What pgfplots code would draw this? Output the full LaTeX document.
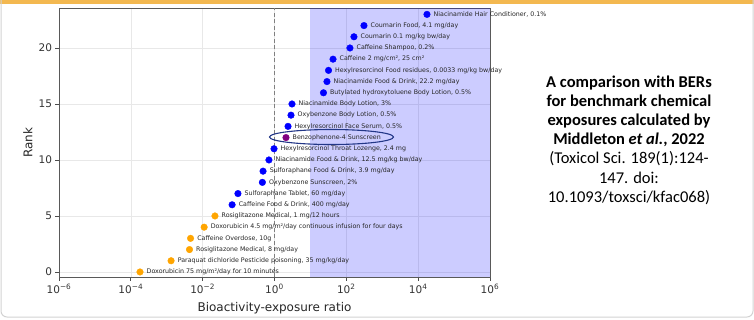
\documentclass[border=0pt]{standalone}
\usepackage{pgfplots}
\pgfplotsset{compat=1.18}
\usepackage{fontspec}
\setmainfont{DejaVu Sans}
\newfontfamily\carlito{Carlito}
\definecolor{orangebar}{RGB}{243,184,80}
\definecolor{ptorange}{RGB}{255,165,0}
\definecolor{ptblue}{RGB}{0,0,255}
\definecolor{ptpurple}{RGB}{128,0,128}
\definecolor{ellcol}{RGB}{35,55,135}
\begin{document}
\begin{tikzpicture}
\path[use as bounding box] (0,0) rectangle (754pt,319pt);
\fill[orangebar] (0,315pt) rectangle (754pt,319pt);
\draw[gray!35, line width=1pt, rounded corners=6pt] (1pt,330pt) -- (1pt,2pt) -- (753pt,2pt) -- (753pt,330pt);
\begin{axis}[
  at={(59pt,42pt)}, anchor=south west,
  scale only axis, width=431pt, height=269pt,
  xmode=log, xmin=1e-6, xmax=1e6, ymin=-0.45, ymax=23.57,
  xtick={1e-6,1e-4,1e-2,1,1e2,1e4,1e6},
  xticklabels={10\textsuperscript{−6},10\textsuperscript{−4},10\textsuperscript{−2},10\textsuperscript{0},10\textsuperscript{2},10\textsuperscript{4},10\textsuperscript{6}},
  xminorticks=false,
  ytick={0,5,10,15,20},
  /pgf/number format/assume math mode=true,
  grid=major, major grid style={gray!18, line width=0.5pt},
  axis line style={black!65, line width=0.9pt},
  tick style={black!70, line width=0.8pt},
  major tick length=3.5pt, tick align=outside, tick pos=left,
  ticklabel style={font=\fontsize{10.5}{12}\selectfont, text=black!80},
  xlabel={Bioactivity-exposure ratio}, ylabel={Rank},
  label style={font=\fontsize{12}{14}\selectfont, text=black!85},
  xlabel style={at={(axis description cs:0.5,-0.115)}, anchor=center},
  ylabel style={at={(axis description cs:-0.0719,0.5)}, anchor=center},
  clip=false,
  every node near coord/.style={anchor=west, inner sep=0pt, xshift=6.5pt, font=\fontsize{6.3}{7}\selectfont, text=black!85},
]
\fill[blue, fill opacity=0.2] (axis cs:10,-0.45) rectangle (axis cs:1e6,23.57);
\addplot[only marks, mark=*, mark size=3.3pt, color=ptorange, point meta=explicit symbolic, nodes near coords] coordinates {
(1.8e-4,0) [Doxorubicin 75 mg/m²/day for 10 minutes]
(0.00132,1) [Paraquat dichloride Pesticide poisoning, 35 mg/kg/day]
(0.0043,2) [Rosiglitazone Medical, 8 mg/day]
(0.0046,3) [Caffeine Overdose, 10g]
(0.011,4) [Doxorubicin 4.5 mg/m²/day continuous infusion for four days]
(0.022,5) [Rosiglitazone Medical, 1 mg/12 hours]
};
\addplot[only marks, mark=*, mark size=3.3pt, color=ptblue, point meta=explicit symbolic, nodes near coords] coordinates {
(0.066,6) [Caffeine Food \& Drink, 400 mg/day]
(0.096,7) [Sulforaphane Tablet, 60 mg/day]
(0.46,8) [Oxybenzone Sunscreen, 2\%]
(0.48,9) [Sulforaphane Food \& Drink, 3.9 mg/day]
(0.70,10) [Niacinamide Food \& Drink, 12.5 mg/kg bw/day]
(0.97,11) [Hexylresorcinol Throat Lozenge, 2.4 mg]
(2.38,13) [Hexylresorcinol Face Serum, 0.5\%]
(2.88,14) [Oxybenzone Body Lotion, 0.5\%]
(3.07,15) [Niacinamide Body Lotion, 3\%]
(23.1,16) [Butylated hydroxytoluene Body Lotion, 0.5\%]
(28.9,17) [Niacinamide Food \& Drink, 22.2 mg/day]
(31.9,18) [Hexylresorcinol Food residues, 0.0033 mg/kg bw/day]
(42.6,19) [Caffeine 2 mg/cm², 25 cm²]
(126,20) [Caffeine Shampoo, 0.2\%]
(163,21) [Coumarin 0.1 mg/kg bw/day]
(310,22) [Coumarin Food, 4.1 mg/day]
(17600,23) [Niacinamide Hair Conditioner, 0.1\%]
};
\addplot[only marks, mark=*, mark size=3.3pt, color=ptpurple, point meta=explicit symbolic, nodes near coords] coordinates {
(2.09,12) [Benzophenone-4 Sunscreen]
};
\draw[gray, line width=1.2pt, dash pattern=on 4pt off 2.5pt] (axis cs:1,-0.45) -- (axis cs:1,23.57);
\draw[ellcol, line width=1.1pt] (axis cs:38.6,12.05) ellipse [x radius=62pt, y radius=7.5pt];
\end{axis}
\node[align=center, font=\carlito\fontsize{16.5}{19.2}\selectfont, text=black] at (629pt,179pt) {\textbf{A comparison with BERs}\\\textbf{for benchmark chemical}\\\textbf{exposures calculated by}\\\textbf{Middleton \textit{et al.}, 2022}\\(Toxicol Sci. 189(1):124-\\147. doi:\\10.1093/toxsci/kfac068)};
\end{tikzpicture}
\end{document}
